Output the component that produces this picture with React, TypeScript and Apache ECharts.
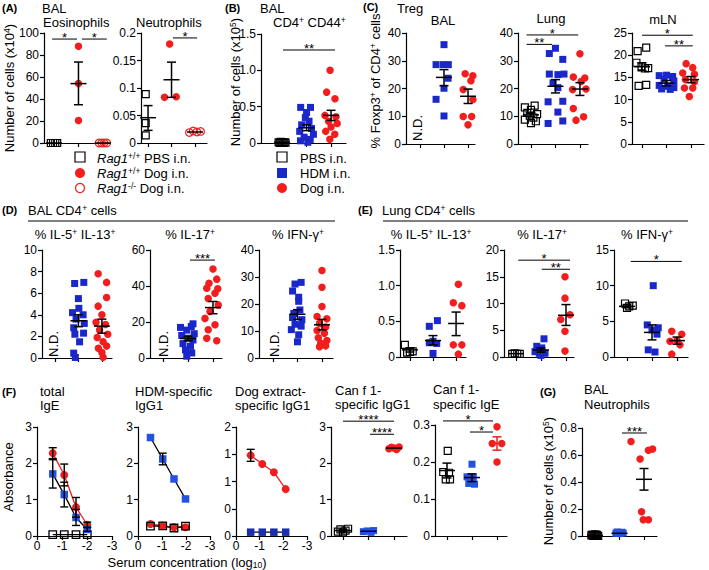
import React, { useEffect, useRef } from 'react';
import * as echarts from 'echarts';

type Pt = [number, number];
type Stat = [number, number, number, number]; // x, mean, lo, hi
type Sig = [number, number, number, string]; // x1, x2, y, label

// ---------------- DATA ----------------
// (A) BAL eosinophils (x10^4)
const eosPbs: Pt[] = [[0.87, 0], [0.96, 0], [1.05, 0], [1.13, 0]];
const eosDog: Pt[] = [[2, 88], [2, 54], [2, 20.5]];
const eosKo: Pt[] = [[2.84, 0], [2.95, 0], [3.05, 0], [3.16, 0]];
const eosStats: Stat[] = [[1, 0, 0, 0], [2, 54, 34.8, 73.6], [3, 0, 0, 0]];
const eosSig: Sig[] = [[0.92, 1.94, 94.5, '*'], [2.14, 3.16, 94.5, '*']];
// (A) BAL neutrophils
const neuPbs: Pt[] = [[0.9, 0.089], [0.9, 0.036], [0.9, 0.014]];
const neuDog: Pt[] = [[1.92, 0.18], [1.7, 0.083], [2.2, 0.084]];
const neuKo: Pt[] = [[2.76, 0.019], [2.92, 0.022], [3.08, 0.02], [3.24, 0.021]];
const neuStats: Stat[] = [[1, 0.046, 0.023, 0.068], [2, 0.115, 0.083, 0.147], [3, 0.02, 0.02, 0.02]];
const neuSig: Sig[] = [[2.06, 3.09, 0.191, '*']];
// (B) BAL CD4+CD44+ (x10^5)
const bPbs: Pt[] = [[0.86, 0.01], [0.9, 0], [0.94, 0.015], [0.98, 0.005], [1.02, 0.012], [1.06, 0], [1.1, 0.01], [1.14, 0.004]];
const bHdm: Pt[] = [[1.76, 0.49], [2.16, 0.49], [2.0, 0.42], [1.95, 0.35], [2.1, 0.3], [1.8, 0.25], [2.2, 0.2], [1.72, 0.16], [2.28, 0.12], [1.9, 0.08], [2.15, 0.05], [1.75, 0.03], [2.05, 0.01]];
const bDog: Pt[] = [[2.96, 1.0], [2.82, 0.7], [3.16, 0.61], [2.75, 0.38], [3.2, 0.36], [2.9, 0.3], [3.25, 0.27], [3.0, 0.22], [2.78, 0.16], [3.15, 0.12], [2.95, 0.05]];
const bStats: Stat[] = [[1, 0.01, 0.01, 0.01], [2, 0.21, 0.17, 0.25], [3, 0.38, 0.31, 0.45]];
const bSig: Sig[] = [[1.04, 3.16, 1.28, '**']];
// (C) Treg % Foxp3+ — BAL
const cBalHdm: Pt[] = [[2, 35.8], [1.67, 28.6], [1.97, 28.6], [2.18, 28.6], [2.17, 23.7], [2.0, 20.1], [1.67, 16.1], [2.0, 10.1]];
const cBalDog: Pt[] = [[2.88, 25.3], [3.2, 24.6], [3.12, 22.8], [2.8, 19.6], [3.2, 16], [2.8, 9.9], [3.15, 9.9], [3.0, 6.9]];
const cBalStats: Stat[] = [[2, 24, 21, 26.8], [3, 17.2, 14.6, 19.8]];
// (C) Lung
const cLungPbs: Pt[] = [[0.75, 13.2], [1.15, 13.8], [1.0, 12.3], [0.85, 11.2], [1.25, 10.8], [0.95, 10.2], [1.1, 9.5], [0.75, 8.8], [1.2, 8.2], [1.0, 7.5]];
const cLungHdm: Pt[] = [[2.0, 34.5], [1.75, 32.6], [2.3, 30.5], [1.75, 25.2], [2.1, 25], [2.35, 25.2], [1.9, 22], [2.1, 20.3], [1.7, 15.2], [2.3, 15.4], [2.1, 11.5], [1.7, 7.4], [2.3, 8.3]];
const cLungDog: Pt[] = [[3.0, 32.5], [2.73, 24.1], [3.2, 23.8], [3.05, 22.5], [2.7, 19.6], [3.25, 19.8], [2.73, 12.8], [3.15, 9.8], [2.84, 8.6]];
const cLungStats: Stat[] = [[1, 10.5, 9.8, 11.3], [2, 20.8, 18.4, 23.2], [3, 19.8, 17.5, 22.1]];
const cLungSig: Sig[] = [[0.82, 2.93, 39.3, '*'], [0.82, 1.86, 35.9, '**']];
// (C) mLN
const cMlnPbs: Pt[] = [[0.82, 20.9], [1.17, 21.7], [0.77, 18.3], [0.98, 17.5], [1.12, 17.0], [1.25, 17.1], [0.86, 13.1], [1.17, 13.3]];
const cMlnHdm: Pt[] = [[1.7, 15.4], [2.25, 15.2], [2.0, 15.5], [1.9, 14.6], [2.3, 14.2], [1.7, 13.2], [2.05, 13.0], [2.3, 12.7], [1.8, 12.4], [2.15, 12.3]];
const cMlnDog: Pt[] = [[2.8, 18.1], [3.07, 17.2], [2.66, 16], [3.14, 15.7], [2.77, 14.5], [3.14, 14], [2.73, 12.6], [3.07, 12.6], [2.93, 10.7]];
const cMlnStats: Stat[] = [[1, 17.4, 16.5, 18.3], [2, 13.7, 13.1, 14.3], [3, 14.5, 13.8, 15.2]];
const cMlnSig: Sig[] = [[1.0, 3.07, 24.5, '*'], [1.94, 3.07, 22.1, '**']];
// (D) BAL CD4+ cells
const d1Hdm: Pt[] = [[1.84, 6.9], [2.23, 7.0], [2.0, 5.5], [2.02, 4.6], [1.75, 4.2], [2.2, 4.0], [1.9, 3.6], [2.25, 3.2], [1.8, 2.8], [2.22, 2.3], [1.85, 2.2], [2.05, 1.5], [1.8, 0.45], [1.87, 0.05]];
const d1Dog: Pt[] = [[2.84, 7.8], [3.2, 7.0], [3.2, 5.6], [2.84, 4.8], [3.0, 4.0], [2.75, 3.3], [3.15, 3.1], [2.9, 2.6], [3.25, 2.2], [2.8, 1.9], [3.05, 1.5], [3.2, 1.1], [2.85, 0.9], [3.0, 0.5], [3.05, 0.06]];
const d1Stats: Stat[] = [[2, 3.45, 2.9, 4.0], [3, 2.95, 2.3, 3.6]];
const d2Hdm: Pt[] = [[1.7, 17], [2.13, 17.5], [2.2, 19], [1.95, 15.5], [2.25, 13.5], [1.75, 12.5], [2.0, 11], [2.2, 10], [1.8, 8], [2.1, 6.5], [1.9, 4.5], [2.15, 2.8], [1.95, 1.0]];
const d2Dog: Pt[] = [[3.0, 49.4], [3.15, 43.8], [2.84, 41.5], [3.19, 38.5], [2.75, 38.8], [3.08, 36], [2.81, 33], [3.21, 29.5], [2.88, 25.8], [2.68, 22], [3.08, 18.5], [2.81, 15.7], [2.75, 11], [3.15, 9.6]];
const d2Stats: Stat[] = [[2, 10.8, 9.6, 12], [3, 28, 24.6, 31.4]];
const d2Sig: Sig[] = [[2.08, 3.08, 54.4, '***']];
const d3Hdm: Pt[] = [[1.9, 27.4], [2.15, 28], [2.05, 22.5], [1.8, 24.8], [2.05, 21], [1.85, 16.5], [2.1, 17.8], [1.8, 15], [2.18, 14.2], [1.9, 12.5], [2.15, 11.8], [1.75, 10.5], [2.05, 8.6], [2.0, 6]];
const d3Dog: Pt[] = [[3, 32.4], [3, 26.2], [3, 19.1], [2.8, 15.4], [3.2, 14.5], [2.9, 12.8], [3.15, 11.5], [2.8, 10.2], [3.1, 9.2], [2.85, 7.5], [3.2, 6.5], [2.95, 5.5], [3.15, 4.5], [2.9, 4.2]];
const d3Stats: Stat[] = [[2, 16.2, 14.3, 17.9], [3, 12.3, 10.4, 14.3]];
// (E) Lung CD4+ cells
const e1Pbs: Pt[] = [[0.78, 0.17], [1.0, 0.07], [0.88, 0.06], [1.12, 0.08]];
const e1Hdm: Pt[] = [[1.84, 0.43], [2.19, 0.51], [2.0, 0.22], [1.84, 0.2], [2.16, 0.19], [2.0, 0.05]];
const e1Dog: Pt[] = [[3.1, 1.02], [2.88, 0.76], [3.25, 0.72], [2.88, 0.17], [3.25, 0.17], [3.1, 0.04]];
const e1Stats: Stat[] = [[1, 0.1, 0.07, 0.13], [2, 0.23, 0.17, 0.3], [3, 0.47, 0.3, 0.63]];
const e2Pbs: Pt[] = [[0.85, 0.6], [0.95, 0.7], [1.05, 0.6], [1.15, 0.6]];
const e2Hdm: Pt[] = [[2.12, 3.4], [1.83, 2.0], [2.03, 1.7], [1.76, 1.0], [1.93, 0.7], [2.16, 0.7], [2.0, 0.3]];
const e2Dog: Pt[] = [[2.96, 15.0], [2.96, 11.0], [2.79, 7.0], [3.16, 7.9], [2.96, 4.8], [2.96, 1.1]];
const e2Stats: Stat[] = [[1, 0.62, 0.62, 0.62], [2, 1.3, 0.9, 1.7], [3, 7.8, 5.9, 9.8]];
const e2Sig: Sig[] = [[1.09, 3.16, 18.1, '*'], [2.03, 3.16, 16.4, '**']];
const e3Pbs: Pt[] = [[0.92, 7.5], [1.09, 7.1], [1.23, 7.2], [1.0, 6.9]];
const e3Hdm: Pt[] = [[2.05, 10.0], [1.81, 4.5], [2.25, 4.1], [2.0, 3.8], [2.2, 3.2], [1.85, 1.0], [2.12, 0.7]];
const e3Dog: Pt[] = [[2.79, 3.6], [3.19, 3.2], [3.0, 2.3], [2.72, 2.2], [3.12, 1.7], [2.79, 0.4]];
const e3Stats: Stat[] = [[1, 7.1, 6.9, 7.3], [2, 3.45, 2.4, 4.5], [3, 2.3, 1.8, 2.8]];
const e3Sig: Sig[] = [[1.15, 3.19, 13.4, '*']];
// (F) serum antibody titration (x = log10 serum concentration)
const f1X = [-0.63, -1.09, -1.56, -2.01];
const f1Dog = [2.28, 1.68, 0.79, 0.31];
const f1DogSem = [0.15, 0.3, 0.27, 0.07];
const f1Hdm = [1.71, 1.14, 0.51, 0.18];
const f1HdmSem = [0.39, 0.34, 0.22, 0.05];
const f1Pbs = [0.04, 0.04, 0.04, 0.04];
const f2X = [-0.52, -1.03, -1.5, -1.98];
const f2Hdm = [2.71, 2.12, 1.57, 1.02];
const f2HdmSem = [0, 0.16, 0, 0];
const f2Dog = [0.33, 0.28, 0.24, 0.24];
const f2Pbs = [0.27, 0.28, 0.22, 0.27];
const f3X = [-0.62, -1.11, -1.6, -2.1];
const f3Dog = [1.48, 1.32, 1.17, 0.86];
const f3DogSem = [0.11, 0, 0, 0];
const f3Hdm = [0.07, 0.07, 0.07, 0.07];
// Can f 1-specific IgG1
const f4Pbs: Pt[] = [[0.8, 0.12], [0.9, 0.18], [1.0, 0.1], [1.1, 0.15], [1.2, 0.2]];
const f4Hdm: Pt[] = [[1.8, 0.12], [1.95, 0.14], [2.1, 0.1], [2.2, 0.15]];
const f4Dog: Pt[] = [[2.8, 2.4], [2.9, 2.44], [3.0, 2.42], [3.1, 2.38], [3.2, 2.45]];
const f4Stats: Stat[] = [[1, 0.15, 0.12, 0.18], [2, 0.13, 0.12, 0.14], [3, 2.42, 2.41, 2.43]];
const f4Sig: Sig[] = [[1.0, 3.0, 3.16, '****'], [2.06, 3.0, 2.8, '****']];
// Can f 1-specific IgE
const f5Pbs: Pt[] = [[1.03, 0.23], [0.85, 0.173], [1.08, 0.171], [0.95, 0.153], [1.12, 0.153]];
const f5Hdm: Pt[] = [[2, 0.194], [1.8, 0.16], [2.05, 0.158], [1.87, 0.142], [2.1, 0.14]];
const f5Dog: Pt[] = [[3, 0.295], [2.81, 0.25], [3.19, 0.25], [3, 0.2]];
const f5Stats: Stat[] = [[1, 0.177, 0.157, 0.197], [2, 0.158, 0.147, 0.168], [3, 0.25, 0.232, 0.268]];
const f5Sig: Sig[] = [[0.84, 2.84, 0.311, '*'], [1.92, 2.84, 0.281, '*']];
// (G) BAL neutrophils (x10^5)
const gPbs: Pt[] = [[0.85, 0.005], [0.89, 0.01], [0.93, 0], [0.97, 0.006], [1.01, 0.012], [1.05, 0.003], [1.09, 0.008], [1.13, 0]];
const gHdm: Pt[] = [[1.85, 0.02], [1.9, 0.03], [1.95, 0.018], [2.0, 0.026], [2.05, 0.02], [2.1, 0.028], [2.15, 0.022]];
const gDog: Pt[] = [[2.47, 0.7], [2.84, 0.57], [3.18, 0.635], [3.35, 0.645], [2.9, 0.18], [2.97, 0.12], [3.18, 0.12]];
const gStats: Stat[] = [[1, 0.005, 0.005, 0.005], [2, 0.02, 0.02, 0.02], [3, 0.42, 0.34, 0.5]];
const gSig: Sig[] = [[2.1, 3.12, 0.763, '***']];

// ---------------- STYLE ----------------
const FF = "'Liberation Sans', Arial, Helvetica, sans-serif";
const RED = '#f21d1d';
const BLUE = '#1a27c9';
const BLUE2 = '#2352e0';

const RICH: any = {
  n: { fontSize: 13, fontFamily: FF, lineHeight: 14, fill: '#000', color: '#000' },
  s: { fontSize: 8.5, fontFamily: FF, lineHeight: 8, verticalAlign: 'top', fill: '#000', color: '#000' },
  b: { fontSize: 8.5, fontFamily: FF, lineHeight: 8, verticalAlign: 'bottom', fill: '#000', color: '#000' },
  i: { fontSize: 13, fontFamily: FF, fontStyle: 'italic', lineHeight: 14, fill: '#000', color: '#000' },
};

function toRich(src: string): string {
  let out = '';
  let buf = '';
  let i = 0;
  const flush = () => {
    if (buf) { out += `{n|${buf}}`; buf = ''; }
  };
  while (i < src.length) {
    const c = src[i];
    if ((c === '^' || c === '_' || c === '!') && src[i + 1] === '{') {
      const end = src.indexOf('}', i);
      flush();
      const tag = c === '^' ? 's' : c === '_' ? 'b' : 'i';
      out += `{${tag}|${src.slice(i + 2, end)}}`;
      i = end + 1;
      continue;
    }
    buf += c;
    i++;
  }
  flush();
  return out;
}

function txt(s: string, x: number, y: number, align = 'left', rot = 0): any {
  return {
    type: 'text', x, y, rotation: rot, silent: true,
    style: {
      text: toRich(s), rich: RICH, fontSize: 13, fontFamily: FF, fill: '#000',
      align, verticalAlign: 'middle', textAlign: align, textVerticalAlign: 'middle',
    },
  };
}
function bold(s: string, x: number, y: number): any {
  return {
    type: 'text', x, y, silent: true,
    style: {
      text: s, fontSize: 11, fontWeight: 'bold', fontFamily: FF, fill: '#000',
      align: 'left', verticalAlign: 'middle', textAlign: 'left', textVerticalAlign: 'middle',
    },
  };
}

const fmt1 = (v: number) => (v === 0 ? '0' : v.toFixed(1));
const fmtFloor = (v: number) => String(Math.floor(v));

function buildOption() {
  const grid: any[] = [];
  const xAxis: any[] = [];
  const yAxis: any[] = [];
  const series: any[] = [];
  const axisLine = { show: true, onZero: false, lineStyle: { color: '#000', width: 1.2 } };
  const tick = { show: true, length: 4, lineStyle: { color: '#000', width: 1.2 } };
  const lab = { color: '#000', fontSize: 12, fontFamily: FF };

  function panel(box: number[], xr: number[] | null, yMax: number, yInt: number, yFmt?: (v: number) => string) {
    const i = grid.length;
    grid.push({ left: box[0], top: box[1], width: box[2], height: box[3], containLabel: false, outerBoundsMode: 'none' });
    if (!xr) {
      xAxis.push({
        type: 'value', gridIndex: i, min: -3, max: 0, interval: 1, inverse: true,
        axisLine, axisTick: tick, axisLabel: { ...lab, margin: 4 }, splitLine: { show: false },
      });
    } else {
      xAxis.push({
        type: 'value', gridIndex: i, min: xr[0], max: xr[1],
        axisLine, axisTick: { ...tick, customValues: [1, 2, 3] },
        axisLabel: { show: false, customValues: [1, 2, 3] }, splitLine: { show: false },
      });
    }
    const yl: any = { ...lab, margin: 5 };
    if (yFmt) yl.formatter = yFmt;
    yAxis.push({
      type: 'value', gridIndex: i, min: 0, max: yMax, interval: yInt,
      axisLine, axisTick: tick, axisLabel: yl, splitLine: { show: false },
    });
    return i;
  }

  function scat(i: number, kind: string, color: string, pts: Pt[]) {
    const open = kind === 'osq' || kind === 'oci';
    const sq = kind.endsWith('sq');
    series.push({
      type: 'scatter', xAxisIndex: i, yAxisIndex: i, data: pts, silent: true, z: 2,
      symbol: sq ? 'rect' : 'circle', symbolSize: sq ? 7 : 7.5,
      itemStyle: open
        ? { color: 'rgba(0,0,0,0)', borderColor: color, borderWidth: 1.2, opacity: 1 }
        : { color, borderWidth: 0, opacity: 1 },
    });
  }

  function stats(i: number, st: Stat[], colors?: string[]) {
    series.push({
      type: 'custom', xAxisIndex: i, yAxisIndex: i, silent: true, z: 10,
      data: st.map((s) => [s[0], s[1], s[2], s[3]]),
      encode: { x: 0, y: [1, 2, 3] },
      renderItem: (params: any, api: any) => {
        const x = api.value(0);
        const c = api.coord([x, api.value(1)]);
        const l = api.coord([x, api.value(2)]);
        const h = api.coord([x, api.value(3)]);
        const col = (colors && colors[params.dataIndex]) || '#000';
        const style = { stroke: col, lineWidth: 1.5, fill: 'none' };
        const ch: any[] = [{ type: 'line', shape: { x1: c[0] - 8, y1: c[1], x2: c[0] + 8, y2: c[1] }, style }];
        if (Math.abs(l[1] - h[1]) > 1) {
          ch.push({ type: 'line', shape: { x1: c[0], y1: l[1], x2: c[0], y2: h[1] }, style });
          ch.push({ type: 'line', shape: { x1: c[0] - 4.5, y1: l[1], x2: c[0] + 4.5, y2: l[1] }, style });
          ch.push({ type: 'line', shape: { x1: c[0] - 4.5, y1: h[1], x2: c[0] + 4.5, y2: h[1] }, style });
        }
        return { type: 'group', children: ch };
      },
    });
  }

  function errs(i: number, xs: number[], ys: number[], sems: number[]) {
    const d = xs.map((x, k) => [x, ys[k] - sems[k], ys[k] + sems[k]]).filter((_, k) => sems[k] > 0);
    series.push({
      type: 'custom', xAxisIndex: i, yAxisIndex: i, silent: true, z: 10,
      data: d, encode: { x: 0, y: [1, 2] },
      renderItem: (_p: any, api: any) => {
        const x = api.value(0);
        const l = api.coord([x, api.value(1)]);
        const h = api.coord([x, api.value(2)]);
        const style = { stroke: '#000', lineWidth: 1.4, fill: 'none' };
        return {
          type: 'group', children: [
            { type: 'line', shape: { x1: l[0], y1: l[1], x2: h[0], y2: h[1] }, style },
            { type: 'line', shape: { x1: l[0] - 4, y1: l[1], x2: l[0] + 4, y2: l[1] }, style },
            { type: 'line', shape: { x1: h[0] - 4, y1: h[1], x2: h[0] + 4, y2: h[1] }, style },
          ],
        };
      },
    });
  }

  function sigs(i: number, sg: Sig[]) {
    series.push({
      type: 'custom', xAxisIndex: i, yAxisIndex: i, silent: true, z: 10,
      data: sg.map((s) => [s[0], s[1], s[2]]), encode: { x: [0, 1], y: 2 },
      renderItem: (params: any, api: any) => {
        const a = api.coord([api.value(0), api.value(2)]);
        const b = api.coord([api.value(1), api.value(2)]);
        return {
          type: 'group', children: [
            { type: 'line', shape: { x1: a[0], y1: a[1], x2: b[0], y2: b[1] }, style: { stroke: '#000', lineWidth: 1 } },
            {
              type: 'text', x: (a[0] + b[0]) / 2, y: a[1] - 1.5,
              style: {
                text: sg[params.dataIndex][3], fontSize: 13, lineHeight: 9, fontFamily: FF, fill: '#000',
                align: 'center', verticalAlign: 'middle', textAlign: 'center', textVerticalAlign: 'middle',
              },
            },
          ],
        };
      },
    });
  }

  function line(i: number, xs: number[], ys: number[], kind: string, fill: string, lineColor: string) {
    const open = kind === 'osq';
    const sq = kind !== 'ci';
    series.push({
      type: 'line', xAxisIndex: i, yAxisIndex: i, silent: true, z: 3,
      data: xs.map((x, k) => [x, ys[k]]),
      symbol: sq ? 'rect' : 'circle', symbolSize: sq ? 7.5 : 8, showSymbol: true,
      lineStyle: { color: lineColor, width: 1.3 },
      itemStyle: open
        ? { color: 'rgba(0,0,0,0)', borderColor: '#000', borderWidth: 1.3 }
        : { color: fill, borderWidth: 0 },
    });
  }

  // (A) Eosinophils
  let i = panel([44, 33, 66, 110], [0.59, 3.29], 100, 20);
  scat(i, 'osq', '#000', eosPbs); scat(i, 'ci', RED, eosDog); scat(i, 'oci', RED, eosKo);
  stats(i, eosStats); sigs(i, eosSig);
  // (A) Neutrophils
  i = panel([141, 33, 66, 110], [0.7, 3.51], 0.2, 0.05);
  scat(i, 'osq', '#000', neuPbs); scat(i, 'ci', RED, neuDog); scat(i, 'oci', RED, neuKo);
  stats(i, neuStats); sigs(i, neuSig);
  // (B)
  i = panel([261, 34, 85, 109], [0.14, 3.61], 1.5, 0.5, fmt1);
  scat(i, 'osq', '#000', bPbs); scat(i, 'sq', BLUE, bHdm); scat(i, 'ci', RED, bDog);
  stats(i, bStats); sigs(i, bSig);
  // (C) BAL
  i = panel([406, 33, 69, 111], [0.42, 3.29], 40, 10);
  scat(i, 'sq', BLUE, cBalHdm); scat(i, 'ci', RED, cBalDog); stats(i, cBalStats);
  // (C) Lung
  i = panel([518, 33, 70, 111], [0.47, 3.33], 40, 10);
  scat(i, 'osq', '#000', cLungPbs); scat(i, 'sq', BLUE, cLungHdm); scat(i, 'ci', RED, cLungDog);
  stats(i, cLungStats); sigs(i, cLungSig);
  // (C) mLN
  i = panel([632, 33, 72, 111], [0.59, 3.53], 25, 5);
  scat(i, 'osq', '#000', cMlnPbs); scat(i, 'sq', BLUE, cMlnHdm); scat(i, 'ci', RED, cMlnDog);
  stats(i, cMlnStats); sigs(i, cMlnSig);
  // (D)
  i = panel([42, 250, 70, 108], [0.45, 3.43], 10, 2);
  scat(i, 'sq', BLUE, d1Hdm); scat(i, 'ci', RED, d1Dog); stats(i, d1Stats);
  i = panel([150, 250, 72, 108], [0.48, 3.36], 60, 20);
  scat(i, 'sq', BLUE, d2Hdm); scat(i, 'ci', RED, d2Dog); stats(i, d2Stats); sigs(i, d2Sig);
  i = panel([259, 250, 74, 108], [0.43, 3.45], 40, 10);
  scat(i, 'sq', BLUE, d3Hdm); scat(i, 'ci', RED, d3Dog); stats(i, d3Stats);
  // (E)
  i = panel([400, 250, 66, 107], [0.57, 3.43], 1.5, 0.5, fmt1);
  scat(i, 'osq', '#000', e1Pbs); scat(i, 'sq', BLUE, e1Hdm); scat(i, 'ci', RED, e1Dog); stats(i, e1Stats);
  i = panel([504, 250, 70, 107], [0.52, 3.32], 20, 5);
  scat(i, 'osq', '#000', e2Pbs); scat(i, 'sq', BLUE, e2Hdm); scat(i, 'ci', RED, e2Dog); stats(i, e2Stats); sigs(i, e2Sig);
  i = panel([614, 250, 74, 107], [0.48, 3.44], 15, 5);
  scat(i, 'osq', '#000', e3Pbs); scat(i, 'sq', BLUE, e3Hdm); scat(i, 'ci', RED, e3Dog); stats(i, e3Stats); sigs(i, e3Sig);
  // (F) total IgE
  i = panel([37, 427, 75, 109], null, 3, 1);
  line(i, f1X, f1Pbs, 'osq', '#000', '#000');
  line(i, f1X, f1Dog, 'ci', RED, RED);
  line(i, f1X, f1Hdm, 'sq', BLUE2, '#000');
  errs(i, f1X, f1Dog, f1DogSem); errs(i, f1X, f1Hdm, f1HdmSem);
  // HDM-specific IgG1
  i = panel([138, 427, 72, 109], null, 3, 1);
  line(i, f2X, f2Hdm, 'sq', BLUE2, '#000');
  line(i, f2X, f2Dog, 'ci', RED, RED);
  line(i, f2X, f2Pbs, 'osq', '#000', '#000');
  errs(i, f2X, f2Hdm, f2HdmSem);
  // Dog extract-specific IgG1
  i = panel([236, 427, 71, 109], null, 2, 0.5, fmtFloor);
  line(i, f3X, f3Dog, 'ci', RED, RED);
  line(i, f3X, f3Hdm, 'sq', '#1a2fb0', '#000');
  errs(i, f3X, f3Dog, f3DogSem);
  // Can f 1 IgG1
  i = panel([331, 427, 76, 109], [0.53, 3.51], 3, 1);
  scat(i, 'osq', '#000', f4Pbs); scat(i, 'sq', BLUE2, f4Hdm); scat(i, 'ci', RED, f4Dog);
  stats(i, f4Stats); sigs(i, f4Sig);
  // Can f 1 IgE
  i = panel([435, 425, 72, 111], [0.52, 3.4], 0.3, 0.1);
  scat(i, 'osq', '#000', f5Pbs); scat(i, 'sq', BLUE2, f5Hdm); scat(i, 'ci', RED, f5Dog);
  stats(i, f5Stats, ['#000', '#000', RED]); sigs(i, f5Sig);
  // (G)
  i = panel([582, 428, 75, 108], [0.47, 3.53], 0.8, 0.2);
  scat(i, 'osq', '#000', gPbs); scat(i, 'sq', BLUE2, gHdm); scat(i, 'ci', RED, gDog);
  stats(i, gStats); sigs(i, gSig);

  const HALF = Math.PI / 2;
  const graphic: any[] = [
    // row 1
    bold('(A)', 2, 8), txt('BAL', 42, 8), txt('Eosinophils', 43, 22), txt('Neutrophils', 136, 22),
    txt('Number of cells (x10^{4})', 9, 88, 'center', HALF),
    { type: 'rect', shape: { x: 75, y: 152, width: 10, height: 10 }, style: { fill: 'none', stroke: '#000', lineWidth: 1.2 } },
    { type: 'circle', shape: { cx: 80, cy: 173, r: 5 }, style: { fill: RED } },
    { type: 'circle', shape: { cx: 80, cy: 188, r: 4.5 }, style: { fill: 'none', stroke: RED, lineWidth: 1.2 } },
    txt('!{Rag1}^{+/+} PBS i.n.', 97, 158), txt('!{Rag1}^{+/+} Dog i.n.', 97, 173), txt('!{Rag1}^{-/-} Dog i.n.', 97, 188),
    bold('(B)', 225, 8), txt('BAL', 260, 8), txt('CD4^{+} CD44^{+}', 273, 22),
    txt('Number of cells (x10^{5})', 235, 82, 'center', HALF),
    { type: 'rect', shape: { x: 277, y: 152, width: 10, height: 10 }, style: { fill: 'none', stroke: '#000', lineWidth: 1.2 } },
    { type: 'rect', shape: { x: 277, y: 168, width: 10, height: 10 }, style: { fill: BLUE } },
    { type: 'circle', shape: { cx: 282, cy: 188, r: 5 }, style: { fill: RED } },
    txt('PBS i.n.', 300, 158), txt('HDM i.n.', 300, 173), txt('Dog i.n.', 300, 188),
    bold('(C)', 363, 7), txt('Treg', 397, 8),
    txt('% Foxp3^{+} of CD4^{+} cells', 375, 81, 'center', HALF),
    txt('BAL', 443, 20, 'center'), txt('Lung', 551, 18.5, 'center'), txt('mLN', 663, 19, 'center'),
    txt('N.D.', 417, 128, 'center', HALF),
    // row 2
    bold('(D)', 2, 210), txt('BAL CD4^{+} cells', 28, 210),
    { type: 'line', shape: { x1: 28, y1: 221, x2: 335, y2: 221 }, style: { stroke: '#000', lineWidth: 1 } },
    txt('% IL-5^{+} IL-13^{+}', 75, 234, 'center'), txt('% IL-17^{+}', 190, 234, 'center'), txt('% IFN-γ^{+}', 298, 234, 'center'),
    txt('N.D.', 53, 344, 'center', HALF), txt('N.D.', 163, 344, 'center', HALF), txt('N.D.', 274, 344, 'center', HALF),
    bold('(E)', 358, 210), txt('Lung CD4^{+} cells', 382, 210),
    { type: 'line', shape: { x1: 383, y1: 221, x2: 688, y2: 221 }, style: { stroke: '#000', lineWidth: 1 } },
    txt('% IL-5^{+} IL-13^{+}', 431, 234, 'center'), txt('% IL-17^{+}', 542, 234, 'center'), txt('% IFN-γ^{+}', 647, 234, 'center'),
    // row 3
    bold('(F)', 2, 392),
    txt('total', 40, 391), txt('IgE', 40, 405),
    txt('HDM-specific', 135, 391), txt('IgG1', 135, 405),
    txt('Dog extract-', 235, 391), txt('specific IgG1', 235, 405),
    txt('Can f 1-', 335, 390), txt('specific IgG1', 335, 404),
    txt('Can f 1-', 433, 389), txt('specific IgE', 433, 404),
    txt('Absorbance', 8, 477, 'center', HALF),
    txt('Serum concentration (log_{10})', 187, 562, 'center'),
    bold('(G)', 540, 392), txt('BAL', 584, 389), txt('Neutrophils', 584, 404),
    txt('Number of cells (x10^{5})', 548, 481, 'center', HALF),
  ];

  return {
    animation: false,
    backgroundColor: '#fff',
    textStyle: { fontFamily: FF },
    grid, xAxis, yAxis, series, graphic,
  };
}

export default function App() {
  const ref = useRef<HTMLDivElement>(null);
  useEffect(() => {
    document.body.style.margin = '0';
    if (!ref.current) return;
    const chart = echarts.init(ref.current, undefined, { renderer: 'svg' });
    chart.setOption(buildOption() as any);
    return () => chart.dispose();
  }, []);
  return <div ref={ref} style={{ width: 709, height: 570 }} />;
}
